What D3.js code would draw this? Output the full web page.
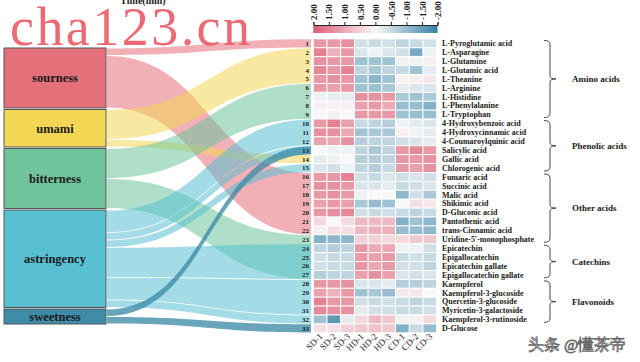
<!DOCTYPE html>
<html>
<head>
<meta charset="utf-8">
<script src="https://cdn.jsdelivr.net/npm/d3@7"></script>
<style>
  body { margin: 0; background: #fff; overflow: hidden; }
  svg { display: block; }
  text { font-family: "Liberation Serif", "Times New Roman", serif; }
</style>
</head>
<body>
<svg id="chart" width="640" height="362"></svg>
<script>
// ── Data ──
const tastes = ['sourness', 'umami', 'bitterness', 'astringency', 'sweetness'];
const tasteColors = ['#e4707a', '#f3d654', '#70c49c', '#58c0d2', '#3e8ca8'];

const compounds = [
  'L-Pyroglutamic acid', 'L-Asparagine', 'L-Glutamine', 'L-Glutamic acid', 'L-Theanine',
  'L-Arginine', 'L-Histidine', 'L-Phenylalanine', 'L-Tryptophan',
  '4-Hydroxybenzoic acid', '4-Hydroxycinnamic acid', '4-Coumaroylquinic acid',
  'Salicylic acid', 'Gallic acid', 'Chlorogenic acid',
  'Fumaric acid', 'Succinic acid', 'Malic acid', 'Shikimic acid', 'D-Gluconic acid',
  'Pantothenic acid', 'trans-Cinnamic acid', 'Uridine-5\u2032-monophosphate',
  'Epicatechin', 'Epigallocatechin', 'Epicatechin gallate', 'Epigallocatechin gallate',
  'Kaempferol', 'Kaempferol-3-glucoside', 'Quercetin-3-glucoside',
  'Myricetin-3-galactoside', 'Kaempferol-3-rutinoside', 'D-Glucose'
];

const samples = ['SD-1', 'SD-2', 'SD-3', 'HD-1', 'HD-2', 'HD-3', 'CD-1', 'CD-2', 'CD-3'];

// z-scores per compound, three replicates per drying method
const sdValues = [
  [1.2, 1.2, 1.3], [1.5, 0.9, 1.2], [1.3, 1.2, 1.2], [1.4, 1.2, 1.5], [1.2, 1.3, 1.2],
  [1.2, 1.1, 1.2], [-0.1, -0.2, -0.2], [0.1, 0.1, 0.1], [0.0, 0.1, 0.0],
  [1.2, 1.5, 1.1], [1.3, 1.3, 1.0], [1.1, 1.0, 1.3],
  [0.0, -0.1, -0.1], [-0.2, -0.1, 0.0], [-0.3, -0.4, -0.1],
  [1.2, 1.2, 1.5], [1.3, 1.3, 1.2], [1.2, 1.3, 1.2], [1.1, 1.2, 1.1], [1.2, 1.3, 1.4],
  [0.4, 0.0, 0.4], [0.1, 0.3, 0.3], [-1.2, -1.1, -1.1],
  [-0.6, -0.7, -0.6], [-0.4, -0.5, -0.5], [-0.4, -0.5, -0.5], [-0.7, -0.6, -0.6],
  [1.2, 1.2, 1.3], [1.1, 0.9, 1.2], [1.5, 1.2, 1.2],
  [1.4, 1.3, 1.3], [-0.9, -1.6, -0.2], [0.3, 0.3, 0.5]
];
const hdValues = [
  [-0.4, -0.5, -0.4], [-0.3, -0.1, -0.3], [-0.9, -0.9, -0.9], [-0.6, -0.8, -0.6], [-0.9, -1.1, -0.9],
  [-0.9, -0.9, -0.8], [1.3, 1.3, 1.2], [1.1, 1.2, 1.0], [1.2, 1.2, 1.2],
  [-0.5, -0.6, -0.7], [-0.9, -0.8, -0.8], [-0.7, -0.6, -0.6],
  [-0.6, -0.8, -0.6], [-0.7, -0.7, -0.6], [-0.6, -0.7, -0.5],
  [-0.4, -0.5, -0.3], [-0.3, -0.3, -0.2], [-0.1, 0.0, 0.0], [-0.8, -1.0, -0.9], [-0.4, -0.5, -0.4],
  [0.8, 0.8, 0.8], [0.8, 0.9, 0.9], [0.5, 0.5, 0.4],
  [1.2, 1.0, 1.0], [1.2, 1.1, 1.2], [1.2, 1.0, 1.2], [1.1, 1.3, 1.1],
  [-0.3, -0.3, -0.2], [-0.9, -0.8, -1.0], [-0.4, -0.5, -0.4],
  [-0.2, -0.4, -0.4], [0.4, 0.8, 0.6], [0.6, 0.7, 0.6]
];
const cdValues = [
  [-0.6, -0.5, -0.4], [-0.4, -1.3, -0.1], [-0.1, -0.1, 0.1], [-0.5, -0.9, -0.2], [0.1, 0.1, 0.2],
  [-0.2, -0.3, -0.3], [-0.8, -0.9, -0.8], [-1.0, -1.0, -1.2], [-0.9, -1.0, -1.0],
  [-0.1, -0.2, -0.3], [0.1, -0.1, -0.2], [-0.4, -0.3, -0.2],
  [1.2, 1.4, 1.2], [1.2, 1.2, 1.3], [1.2, 1.1, 1.3],
  [-0.4, -0.3, -0.4], [-0.5, -0.4, -0.3], [-1.1, -0.4, -0.8], [0.0, 0.3, 0.2], [-0.5, -0.6, -0.5],
  [-1.2, -0.9, -1.1], [-1.0, -1.0, -1.1], [0.4, 0.6, 0.6],
  [-0.1, -0.1, -0.4], [-0.5, -0.4, -0.5], [-0.4, -0.4, -0.6], [-0.3, -0.4, -0.3],
  [-0.7, -0.7, -0.6], [0.2, 0.2, 0.0], [-0.5, -0.6, -0.5],
  [-0.5, -0.5, -0.4], [-0.1, 0.1, 0.4], [-1.2, -0.5, -1.0]
];

// sankey links: taste -> block of compound rows (1-based, inclusive), with link weight
const linkTaste = ['sourness', 'sourness', 'umami', 'umami', 'bitterness', 'bitterness',
  'astringency', 'astringency', 'astringency', 'astringency', 'astringency', 'astringency',
  'sweetness', 'sweetness'];
const linkFrom  = [1, 16, 2, 14, 6, 23, 10, 13, 15, 24, 28, 32, 13, 33];
const linkTo    = [1, 22, 5, 14, 9, 27, 12, 13, 15, 27, 31, 32, 13, 33];
const linkValue = [1, 7, 4, 1, 4, 4, 3, 1, 1, 4, 3, 1, 1, 1];

const groupNames = ['Amino acids', 'Phenolic acids', 'Other acids', 'Catechins', 'Flavonoids'];
const groupFrom = [1, 10, 16, 24, 28];
const groupTo   = [9, 15, 23, 27, 32];

const legendTicks = [2, 1.5, 1, 0.5, 0, -0.5, -1, -1.5, -2];

// ── Setup ──
const svg = d3.select('#chart');
const rowIds = d3.range(1, compounds.length + 1);
const allValues = compounds.map((c, i) => sdValues[i].concat(hdValues[i], cdValues[i]));

const y = d3.scaleBand().domain(rowIds).range([38.9, 332.8]);
const x = d3.scaleBand().domain(samples).range([313.3, 436.7]);
const color = d3.scaleLinear().domain([-2, 0, 2])
  .range(['#3582a6', '#f8f8f8', '#dd5a70']).clamp(true);
const tasteColor = d3.scaleOrdinal().domain(tastes).range(tasteColors);

// ── Left nodes ──
const links = linkTaste.map((t, i) => ({
  taste: t, from: linkFrom[i], to: linkTo[i], value: linkValue[i]
}));
const tasteTotals = tastes.map(t => d3.sum(links.filter(l => l.taste === t), l => l.value));
const nodeTop = 48, nodeBottom = 324, nodeGap = 1.6;
const unit = d3.scaleLinear()
  .domain([0, d3.sum(tasteTotals)])
  .range([0, nodeBottom - nodeTop - nodeGap * (tastes.length - 1)]);

const nodes = [];
let cursor = nodeTop;
tastes.forEach((t, i) => {
  const h = unit(tasteTotals[i]);
  nodes.push({ taste: t, y0: cursor, y1: cursor + h });
  cursor += h + nodeGap;
});

// stack links inside each node
nodes.forEach(n => {
  let yy = n.y0;
  links.filter(l => l.taste === n.taste)
    .sort((a, b) => a.from - b.from)
    .forEach(l => { l.sy0 = yy; l.sy1 = yy + unit(l.value); yy = l.sy1; });
});

const nodeX0 = 4, nodeX1 = 106, flowX1 = 311;

function ribbon(l) {
  const x0 = nodeX1 + 1, x1 = flowX1, xm = (x0 + x1) / 2;
  const t0 = l.sy0 + 0.4, b0 = l.sy1 - 0.4;
  const t1 = y(l.from) + 0.4, b1 = y(l.to) + y.bandwidth() - 0.4;
  const p = d3.path();
  p.moveTo(x0, t0);
  p.bezierCurveTo(xm, t0, xm, t1, x1, t1);
  p.lineTo(x1, b1);
  p.bezierCurveTo(xm, b1, xm, b0, x0, b0);
  p.closePath();
  return p.toString();
}

// ── Flows ──
svg.append('g').selectAll('path').data(links).join('path')
  .attr('d', ribbon)
  .attr('fill', d => tasteColor(d.taste))
  .attr('fill-opacity', d => d.taste === 'sweetness' ? 0.78 : 0.55);

// ── Taste boxes ──
const nodeG = svg.append('g').selectAll('g').data(nodes).join('g');
nodeG.append('rect')
  .attr('x', nodeX0).attr('y', d => d.y0)
  .attr('width', nodeX1 - nodeX0).attr('height', d => d.y1 - d.y0)
  .attr('fill', d => tasteColor(d.taste))
  .attr('stroke', '#555').attr('stroke-width', 1);
nodeG.append('text')
  .attr('x', (nodeX0 + nodeX1) / 2).attr('y', d => (d.y0 + d.y1) / 2)
  .attr('dy', '0.35em').attr('text-anchor', 'middle')
  .attr('font-size', '12.5px').attr('font-weight', 'bold').attr('fill', '#1a1a1a')
  .text(d => d.taste);

// ── Row numbers ──
svg.append('g').selectAll('text').data(rowIds).join('text')
  .attr('x', 309).attr('y', d => y(d) + y.bandwidth() / 2)
  .attr('dy', '0.35em').attr('text-anchor', 'end')
  .attr('font-size', '7px').attr('font-weight', 'bold').attr('fill', '#1a1a1a')
  .text(d => d);

// ── Heatmap ──
const cells = [];
allValues.forEach((row, i) => row.forEach((v, j) => cells.push({ r: i + 1, s: samples[j], v })));
svg.append('g').selectAll('rect').data(cells).join('rect')
  .attr('x', d => x(d.s)).attr('y', d => y(d.r))
  .attr('width', x.bandwidth()).attr('height', y.bandwidth())
  .attr('fill', d => color(d.v))
  .attr('stroke', '#fff').attr('stroke-width', 0.9);

// compound names
svg.append('g').selectAll('text').data(compounds).join('text')
  .attr('x', 442).attr('y', (d, i) => y(i + 1) + y.bandwidth() / 2)
  .attr('dy', '0.35em')
  .attr('font-size', '8px').attr('font-weight', 'bold').attr('fill', '#1a1a1a')
  .text(d => d);

// sample labels
svg.append('g').selectAll('text').data(samples).join('text')
  .attr('transform', d => 'translate(' + (x(d) + x.bandwidth() / 2 + 3) + ',337) rotate(-45)')
  .attr('text-anchor', 'end')
  .attr('font-size', '9px').attr('fill', '#1a1a1a')
  .text(d => d);

// ── Group brackets ──
const groups = groupNames.map((g, i) => ({
  name: g, y0: y(groupFrom[i]) + 1.5, y1: y(groupTo[i]) + y.bandwidth() - 1.5
}));
const bx0 = 544, bx1 = 550, bx2 = 556;
const brG = svg.append('g').selectAll('g').data(groups).join('g');
brG.append('path')
  .attr('d', d => {
    const ym = (d.y0 + d.y1) / 2;
    const p = d3.path();
    p.moveTo(bx0, d.y0);
    p.quadraticCurveTo(bx1, d.y0, bx1, d.y0 + 4);
    p.lineTo(bx1, ym - 3);
    p.quadraticCurveTo(bx1, ym, bx2, ym);
    p.quadraticCurveTo(bx1, ym, bx1, ym + 3);
    p.lineTo(bx1, d.y1 - 4);
    p.quadraticCurveTo(bx1, d.y1, bx0, d.y1);
    return p.toString();
  })
  .attr('fill', 'none').attr('stroke', '#333').attr('stroke-width', 0.9);
brG.append('text')
  .attr('x', 572).attr('y', d => (d.y0 + d.y1) / 2)
  .attr('dy', '0.35em')
  .attr('font-size', '9px').attr('font-weight', 'bold').attr('fill', '#1a1a1a')
  .text(d => d.name);

// ── Colour legend ──
const defs = svg.append('defs');
const grad = defs.append('linearGradient').attr('id', 'legendGrad');
legendTicks.forEach((t, i) => {
  grad.append('stop')
    .attr('offset', (i / (legendTicks.length - 1)) * 100 + '%')
    .attr('stop-color', color(t));
});
const legendX = d3.scaleLinear().domain([2, -2]).range([313.3, 437.5]);
svg.append('rect')
  .attr('x', 313.3).attr('y', 26).attr('width', 124.2).attr('height', 7)
  .attr('fill', 'url(#legendGrad)');
const legendAxis = svg.append('g')
  .attr('transform', 'translate(0,25)')
  .call(d3.axisTop(legendX).tickValues(legendTicks)
    .tickFormat(d => d.toFixed(2)).tickSize(3).tickSizeOuter(3));
legendAxis.select('.domain').attr('stroke', '#222');
legendAxis.selectAll('.tick line').attr('stroke', '#222');
legendAxis.selectAll('.tick text')
  .attr('transform', 'rotate(-90)')
  .attr('x', 5).attr('y', 0).attr('dy', '0.35em')
  .style('text-anchor', 'start')
  .attr('font-family', '"Liberation Serif", serif')
  .attr('font-size', '9px').attr('font-weight', 'bold').attr('fill', '#1a1a1a');

// ── Top title (cropped in source) ──
svg.append('text')
  .attr('x', 143).attr('y', 4).attr('text-anchor', 'middle')
  .attr('font-size', '10px').attr('font-weight', 'bold').attr('fill', '#222')
  .text('Time(min)');

// ── Watermarks ──
svg.append('text')
  .attr('x', 10).attr('y', 45)
  .attr('font-size', '54px').attr('fill', '#e85a66').attr('fill-opacity', 0.9)
  .attr('textLength', 240).attr('lengthAdjust', 'spacing')
  .text('cha123.cn');

svg.append('text')
  .attr('x', 528).attr('y', 350)
  .attr('font-family', '"Noto Sans CJK SC", sans-serif')
  .attr('font-size', '15.5px').attr('fill', '#fafafa')
  .attr('stroke', '#666').attr('stroke-width', 0.8)
  .text('头条 @懂茶帝');
</script>
</body>
</html>
